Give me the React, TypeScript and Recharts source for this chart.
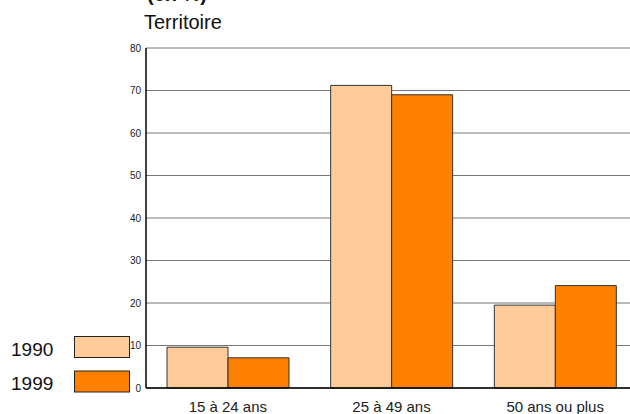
import { BarChart, Bar, XAxis, YAxis, CartesianGrid } from "recharts";

// age groups on the x axis
const categories = ["15 à 24 ans", "25 à 49 ans", "50 ans ou plus"];
// shares in %
const values1990 = [9.6, 71.2, 19.5];
const values1999 = [7.1, 69.0, 24.1];
const yTicks = [0, 10, 20, 30, 40, 50, 60, 70, 80];
const seriesNames = ["1990", "1999"];
const seriesColors = ["#FFCC99", "#FF8000"];

const FONT = "'Liberation Sans', Arial, sans-serif";

export default function App() {
  const data = categories.map((cat, i) => ({
    cat,
    y1990: values1990[i],
    y1999: values1999[i],
  }));

  return (
    <div
      style={{
        position: "absolute",
        left: 0,
        top: 0,
        width: 630,
        height: 414,
        overflow: "hidden",
        background: "#fff",
        fontFamily: FONT,
      }}
    >
      <BarChart
        width={640}
        height={414}
        data={data}
        margin={{ top: 48, right: 3, bottom: 0, left: 106 }}
        barCategoryGap={21}
        barGap={0}
      >
        <CartesianGrid vertical={false} stroke="#777" />
        <XAxis
          dataKey="cat"
          height={26}
          tickLine={false}
          tickSize={0}
          tickMargin={13}
          axisLine={{ stroke: "#000", strokeWidth: 1.5 }}
          tick={{ fontSize: 15, fill: "#222", fontFamily: FONT }}
          interval={0}
        />
        <YAxis
          width={40}
          domain={[0, 80]}
          ticks={yTicks}
          interval={0}
          tickLine={false}
          tickSize={0}
          tickMargin={5}
          axisLine={{ stroke: "#000", strokeWidth: 1.5 }}
          tick={{ fontSize: 10, fill: "#222", fontFamily: FONT }}
        />
        <Bar dataKey="y1990" fill={seriesColors[0]} stroke="#333" strokeWidth={1} isAnimationActive={false} />
        <Bar dataKey="y1999" fill={seriesColors[1]} stroke="#333" strokeWidth={1} isAnimationActive={false} />
      </BarChart>

      {/* titles and legend */}
      <svg
        width={630}
        height={414}
        style={{ position: "absolute", left: 0, top: 0, pointerEvents: "none" }}
      >
        <text x={147} y={1} fontSize={20} fontWeight="bold" fill="#111" fontFamily={FONT}>
          (en %)
        </text>
        <text x={144} y={29} fontSize={20} fill="#111" fontFamily={FONT}>
          Territoire
        </text>
        {seriesNames.map((name, i) => (
          <g key={name}>
            <text x={11} y={356 + i * 34} fontSize={19} fill="#111" fontFamily={FONT}>
              {name}
            </text>
            <rect
              x={74.5}
              y={336.5 + i * 34.5}
              width={55}
              height={21}
              fill={seriesColors[i]}
              stroke="#222"
              strokeWidth={1}
            />
          </g>
        ))}
      </svg>
    </div>
  );
}
